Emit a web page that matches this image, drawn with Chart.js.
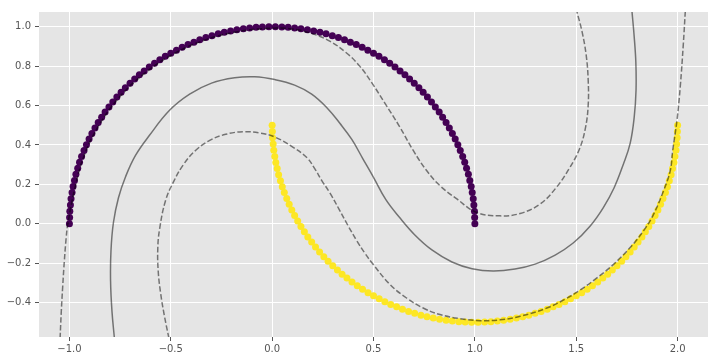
<!DOCTYPE html>
<html><head><meta charset="utf-8">
<script src="https://cdn.jsdelivr.net/npm/chart.js@4.4.0/dist/chart.umd.min.js"></script>
<style>html,body{margin:0;padding:0;background:#fff}</style>
</head><body>
<canvas id="c" width="718" height="361"></canvas>
<script>
// Class 0 (outer moon)
const outerX = [1.000,0.999,0.998,0.995,0.992,0.987,0.982,0.975,0.968,0.959,0.950,0.940,0.928,0.916,0.903,0.889,0.874,0.858,0.841,0.824,0.805,0.786,0.766,0.745,0.724,0.701,0.678,0.655,0.631,0.606,0.580,0.554,0.527,0.500,0.472,0.444,0.415,0.386,0.357,0.327,0.297,0.266,0.236,0.205,0.174,0.142,0.111,0.079,0.048,0.016,
-0.016,-0.048,-0.079,-0.111,-0.142,-0.174,-0.205,-0.236,-0.266,-0.297,-0.327,-0.357,-0.386,-0.415,-0.444,-0.472,-0.500,-0.527,-0.554,-0.580,-0.606,-0.631,-0.655,-0.678,-0.701,-0.724,-0.745,-0.766,-0.786,-0.805,-0.824,-0.841,-0.858,-0.874,-0.889,-0.903,-0.916,-0.928,-0.940,-0.950,-0.959,-0.968,-0.975,-0.982,-0.987,-0.992,-0.995,-0.998,-0.999,-1.000];
const outerY = [0.000,0.032,0.063,0.095,0.127,0.158,0.189,0.220,0.251,0.282,0.312,0.342,0.372,0.401,0.430,0.458,0.486,0.514,0.541,0.567,0.593,0.618,0.643,0.667,0.690,0.713,0.735,0.756,0.776,0.796,0.815,0.833,0.850,0.866,0.881,0.896,0.910,0.922,0.934,0.945,0.955,0.964,0.972,0.979,0.985,0.990,0.994,0.997,0.999,1.000,
1.000,0.999,0.997,0.994,0.990,0.985,0.979,0.972,0.964,0.955,0.945,0.934,0.922,0.910,0.896,0.881,0.866,0.850,0.833,0.815,0.796,0.776,0.756,0.735,0.713,0.690,0.667,0.643,0.618,0.593,0.567,0.541,0.514,0.486,0.458,0.430,0.401,0.372,0.342,0.312,0.282,0.251,0.220,0.189,0.158,0.127,0.095,0.063,0.032,0.000];
// Class 1 (inner moon)
const innerX = [0.000,0.001,0.002,0.005,0.008,0.013,0.018,0.025,0.032,0.041,0.050,0.060,0.072,0.084,0.097,0.111,0.126,0.142,0.159,0.176,0.195,0.214,0.234,0.255,0.276,0.299,0.322,0.345,0.369,0.394,0.420,0.446,0.473,0.500,0.528,0.556,0.585,0.614,0.643,0.673,0.703,0.734,0.764,0.795,0.826,0.858,0.889,0.921,0.952,0.984,
1.016,1.048,1.079,1.111,1.142,1.174,1.205,1.236,1.266,1.297,1.327,1.357,1.386,1.415,1.444,1.472,1.500,1.527,1.554,1.580,1.606,1.631,1.655,1.678,1.701,1.724,1.745,1.766,1.786,1.805,1.824,1.841,1.858,1.874,1.889,1.903,1.916,1.928,1.940,1.950,1.959,1.968,1.975,1.982,1.987,1.992,1.995,1.998,1.999,2.000];
const innerY = [0.500,0.468,0.437,0.405,0.373,0.342,0.311,0.280,0.249,0.218,0.188,0.158,0.128,0.099,0.070,0.042,0.014,-0.014,-0.041,-0.067,-0.093,-0.118,-0.143,-0.167,-0.190,-0.213,-0.235,-0.256,-0.276,-0.296,-0.315,-0.333,-0.350,-0.366,-0.381,-0.396,-0.410,-0.422,-0.434,-0.445,-0.455,-0.464,-0.472,-0.479,-0.485,-0.490,-0.494,-0.497,-0.499,-0.500,
-0.500,-0.499,-0.497,-0.494,-0.490,-0.485,-0.479,-0.472,-0.464,-0.455,-0.445,-0.434,-0.422,-0.410,-0.396,-0.381,-0.366,-0.350,-0.333,-0.315,-0.296,-0.276,-0.256,-0.235,-0.213,-0.190,-0.167,-0.143,-0.118,-0.093,-0.067,-0.041,-0.014,0.014,0.042,0.070,0.099,0.128,0.158,0.188,0.218,0.249,0.280,0.311,0.342,0.373,0.405,0.437,0.468,0.500];

// Decision function contour levels
const solidX = [-0.778,-0.790,-0.797,-0.795,-0.783,-0.758,-0.723,-0.674,-0.605,-0.506,-0.407,-0.299,-0.185,-0.086,0.013,0.111,0.195,0.270,0.334,0.393,0.447,0.502,0.561,0.630,0.704,0.788,0.887,0.986,1.090,1.198,1.297,1.396,1.485,1.569,1.633,1.687,1.732,1.766,1.786,1.795,1.794,1.786,1.775];
const solidY = [-0.582,-0.445,-0.291,-0.138,0.005,0.132,0.239,0.347,0.449,0.576,0.658,0.714,0.741,0.746,0.732,0.704,0.658,0.589,0.510,0.428,0.331,0.232,0.122,0.030,-0.057,-0.133,-0.194,-0.228,-0.240,-0.230,-0.205,-0.159,-0.098,-0.011,0.081,0.183,0.301,0.408,0.541,0.678,0.821,0.949,1.078];
const negX = [-1.046,-1.040,-1.033,-1.025,-1.016,-1.008,-0.975,-0.930,-0.857,-0.758,-0.636,-0.495,-0.339,-0.172,0.000,0.087,0.186,0.284,0.367,0.433,0.492,0.556,0.630,0.696,0.762,0.828,0.911,1.009,1.124,1.223,1.322,1.401,1.465,1.515,1.545,1.559,1.559,1.549,1.529,1.503];
const negY = [-0.582,-0.444,-0.317,-0.189,-0.072,-0.002,0.172,0.339,0.495,0.637,0.758,0.857,0.930,0.975,0.993,0.990,0.969,0.927,0.867,0.799,0.715,0.612,0.491,0.372,0.270,0.193,0.126,0.057,0.040,0.052,0.100,0.183,0.280,0.377,0.484,0.602,0.729,0.857,0.974,1.078];
const posX = [-0.509,-0.531,-0.550,-0.562,-0.564,-0.555,-0.526,-0.486,-0.437,-0.378,-0.308,-0.229,-0.145,-0.061,0.018,0.102,0.171,0.210,0.245,0.284,0.329,0.375,0.418,0.457,0.498,0.581,0.663,0.745,0.828,0.927,1.025,1.124,1.223,1.355,1.445,1.519,1.602,1.684,1.766,1.832,1.882,1.931,1.964,1.976,1.997,2.013,2.028,2.038];
const posY = [-0.582,-0.470,-0.353,-0.240,-0.123,-0.026,0.117,0.214,0.301,0.372,0.423,0.454,0.467,0.461,0.438,0.389,0.336,0.280,0.219,0.158,0.076,-0.011,-0.087,-0.149,-0.206,-0.308,-0.377,-0.428,-0.461,-0.482,-0.492,-0.488,-0.470,-0.428,-0.383,-0.337,-0.275,-0.206,-0.121,-0.036,0.049,0.168,0.270,0.372,0.525,0.694,0.908,1.078];

const xTicks = [-1.0,-0.5,0.0,0.5,1.0,1.5,2.0];
const yTicks = [-0.4,-0.2,0.0,0.2,0.4,0.6,0.8,1.0];

const zip = (xs, ys) => xs.map((x, i) => ({x, y: ys[i]}));
const fmt = v => Number(v).toFixed(1).replace('-', '\u2212');
const lineColor = 'rgba(0,0,0,0.5)';
const lineDs = (xs, ys, dash) => ({
  data: zip(xs, ys), showLine: true, pointRadius: 0, borderColor: lineColor,
  borderWidth: 1.5, borderDash: dash, tension: 0.4, fill: false, order: 0
});

const bg = {
  id: 'bg',
  beforeDraw(chart) {
    const {ctx, chartArea: a} = chart;
    ctx.save(); ctx.fillStyle = '#E5E5E5';
    ctx.fillRect(a.left, a.top, a.right - a.left, a.bottom - a.top);
    ctx.restore();
  }
};

const tickFont = {family: 'DejaVu Sans', size: 10};
new Chart(document.getElementById('c'), {
  type: 'scatter',
  data: {datasets: [
    lineDs(negX, negY, [5.5, 2.4]),
    lineDs(solidX, solidY, []),
    lineDs(posX, posY, [5.5, 2.4]),
    {data: zip(outerX, outerY), backgroundColor: '#440154', borderWidth: 0, pointRadius: 3.5, order: 1},
    {data: zip(innerX, innerY), backgroundColor: '#FDE725', borderWidth: 0, pointRadius: 3.5, order: 1}
  ]},
  options: {
    responsive: false, animation: false,
    layout: {padding: {top: 12, right: 10, left: 0, bottom: 0}},
    plugins: {legend: {display: false}, tooltip: {enabled: false}},
    scales: {
      x: {
        type: 'linear', min: -1.15, max: 2.15,
        afterBuildTicks: s => { s.ticks = xTicks.map(v => ({value: v})); },
        afterFit: s => { s.height = 24; },
        grid: {color: '#FFFFFF', lineWidth: 1, tickColor: '#555555', tickLength: 4},
        border: {display: false},
        ticks: {color: '#555555', font: tickFont, padding: 2, maxRotation: 0, autoSkip: false, callback: v => fmt(v)}
      },
      y: {
        type: 'linear', min: -0.575, max: 1.075,
        afterBuildTicks: s => { s.ticks = yTicks.map(v => ({value: v})); },
        afterFit: s => { s.width = 39; },
        grid: {color: '#FFFFFF', lineWidth: 1, tickColor: '#555555', tickLength: 4},
        border: {display: false},
        ticks: {color: '#555555', font: tickFont, padding: 4, autoSkip: false, callback: v => fmt(v)}
      }
    }
  },
  plugins: [bg]
});
</script>
</body></html>
